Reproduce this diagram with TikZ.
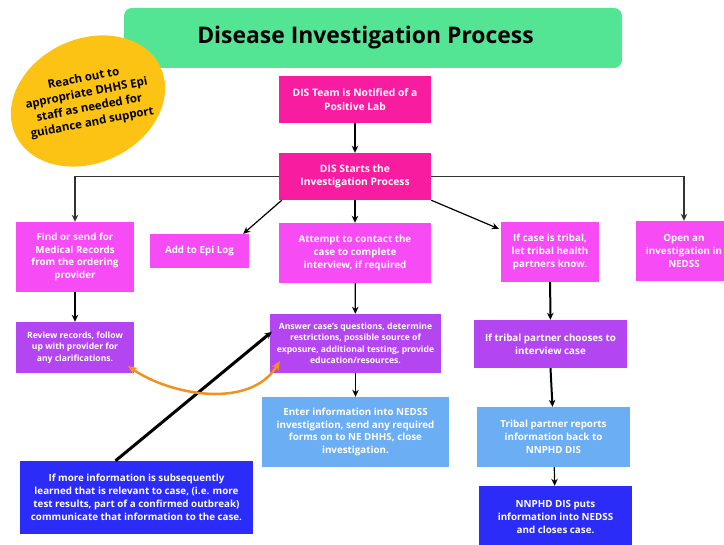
\documentclass[tikz,border=0pt]{standalone}
\usepackage{fontspec}
\setmainfont{Open Sans}
\usetikzlibrary{arrows.meta,shapes.geometric,calc}
\definecolor{titlegreen}{HTML}{53E594}
\definecolor{gold}{HTML}{FDC314}
\definecolor{hotpink}{HTML}{F71CA0}
\definecolor{magenta}{HTML}{F64BF5}
\definecolor{violet}{HTML}{B446F2}
\definecolor{skyblue}{HTML}{6BAEF4}
\definecolor{deepblue}{HTML}{2B2CF8}
\definecolor{tangerine}{HTML}{F29020}
\begin{document}
\begin{tikzpicture}[x=1pt,y=-1pt,
  stepbox/.style={inner sep=0pt, align=center, text=white,
    font=\bfseries\fontsize{9.8}{12.8}\selectfont},
  bigbox/.style={stepbox, font=\bfseries\fontsize{10.3}{13.5}\selectfont},
  smallbox/.style={stepbox, font=\bfseries\fontsize{8.6}{11.5}\selectfont},
  arr/.style={-{Stealth[length=7pt,width=6.5pt]}, line width=1.2pt},
  thickarr/.style={arr, line width=2pt}]
  \useasboundingbox (0,0) rectangle (724,545);
  % Title and the call-out
  \node[fill=titlegreen, rounded corners=8pt, minimum width=498pt, minimum height=60pt,
    font=\bfseries\fontsize{22.9}{27}\selectfont] (title) at (373,38) {Disease Investigation Process\rule{15pt}{0pt}};
  \node[ellipse, fill=gold, minimum width=160pt, minimum height=124pt, rotate=25] (reach) at (88,101) {};
  \node[rotate=11, align=center, font=\bfseries\fontsize{11.5}{15}\selectfont] at (reach.center)
    {Reach out to\\appropriate DHHS Epi\\staff as needed for\\guidance and support};
  % Top of the process
  \node[bigbox, fill=hotpink, minimum width=152pt, minimum height=47pt] (notified) at (355,99.5)
    {DIS Team is Notified of a\\Positive Lab};
  \node[bigbox, fill=hotpink, minimum width=152pt, minimum height=47pt] (starts) at (355,176.5)
    {DIS Starts the\\Investigation Process};
  % First row of tasks
  \node[stepbox, fill=magenta, minimum width=118pt, minimum height=70pt] (records) at (75,257)
    {Find or send for\\Medical Records\\from the ordering\\provider};
  \node[stepbox, fill=magenta, minimum width=99pt, minimum height=34pt] (epilog) at (199.5,251)
    {Add to Epi Log};
  \node[stepbox, fill=magenta, minimum width=152pt, minimum height=60pt] (attempt) at (355,253)
    {Attempt to contact the\\case to complete\\interview, if required};
  \node[stepbox, fill=magenta, minimum width=98pt, minimum height=60pt] (tribal) at (550,252)
    {If case is tribal,\\let tribal health\\partners know.};
  \node[stepbox, fill=magenta, minimum width=96pt, minimum height=60pt] (nedss) at (684,251)
    {Open an\\investigation in\\NEDSS};
  % Second row
  \node[smallbox, fill=violet, minimum width=118pt, minimum height=51pt] (review) at (75,347.5)
    {Review records, follow\\up with provider for\\any clarifications.};
  \node[smallbox, fill=violet, minimum width=171pt, minimum height=59pt] (answer) at (355.5,343.5)
    {Answer case's questions, determine\\restrictions, possible source of\\exposure, additional testing, provide\\education/resources.};
  \node[stepbox, fill=violet, minimum width=153pt, minimum height=48pt] (partner) at (550.5,344)
    {If tribal partner chooses to\\interview case};
  % Third row and follow-up
  \node[stepbox, fill=skyblue, minimum width=187pt, minimum height=70pt] (enter) at (355.5,432)
    {Enter information into NEDSS\\investigation, send any required\\forms on to NE DHHS, close\\investigation.};
  \node[stepbox, fill=skyblue, minimum width=153pt, minimum height=60pt] (reports) at (553.5,437)
    {Tribal partner reports\\information back to\\NNPHD DIS};
  \node[stepbox, fill=deepblue, minimum width=153pt, minimum height=62pt] (closes) at (555.5,517)
    {NNPHD DIS puts\\information into NEDSS\\and closes case.};
  \node[stepbox, fill=deepblue, minimum width=233pt, minimum height=73pt] (moreinfo) at (136.5,497.5)
    {If more information is subsequently\\learned that is relevant to case, (i.e. more\\test results, part of a confirmed outbreak)\\communicate that information to the case.};
  % Connectors
  \draw[arr] (notified) -- (starts);
  \draw[arr, draw=black!80] (starts.west) -| (records.north);
  \draw[arr, draw=black!80] (starts.east) -| (nedss.north);
  \draw[arr] ($(starts.south west)+(3,0)$) -- ($(epilog.north east)+(-6,0)$);
  \draw[arr] (starts) -- (attempt);
  \draw[arr] (starts.south east) -- ($(tribal.north west)+(-2,7)$);
  \draw[arr] (records) -- (review);
  \draw[arr] (attempt) -- (answer);
  \draw[arr] (answer) -- (enter);
  \draw[thickarr] (tribal) -- (partner);
  \draw[thickarr] (partner.south) -- ($(reports.north)+(-1,0)$);
  \draw[arr] (reports) -- (closes);
  \draw[arr, line width=3pt] ($(moreinfo.north)+(-21,0)$) -- ($(answer.north west)+(2,18)$);
  \draw[{Stealth[length=9pt,width=8pt]}-{Stealth[length=9pt,width=8pt]}, tangerine, line width=2.5pt]
    ($(review.south east)+(-6,-7)$) .. controls (170,395) and (250,410) .. ($(answer.south west)+(10,-12)$);
\end{tikzpicture}
\end{document}
